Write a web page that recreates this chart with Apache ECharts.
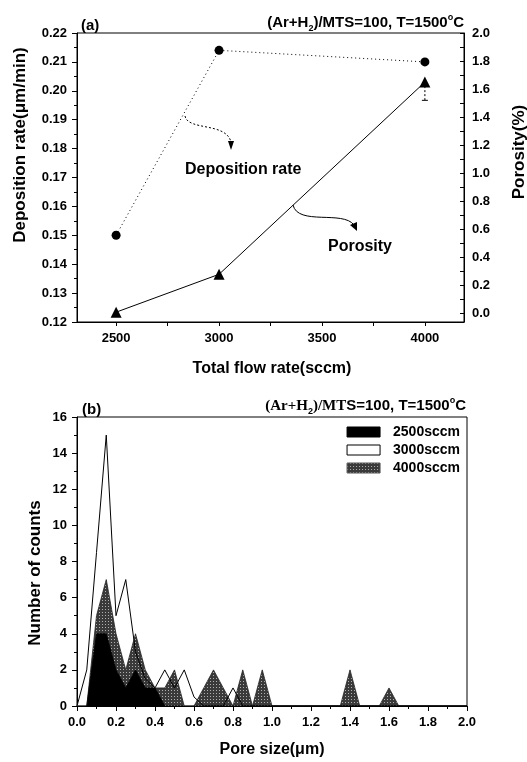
<!DOCTYPE html>
<html>
<head>
<meta charset="utf-8">
<script src="https://cdn.jsdelivr.net/npm/echarts@6/dist/echarts.min.js"></script>
<style>
html,body{margin:0;padding:0;background:#fff}
#chart{width:527px;height:762px}
</style>
</head>
<body>
<div id="chart"></div>
<script>
// (a) deposition rate / porosity vs total flow rate
const flowRate = [2500, 3000, 4000]
const depositionRate = [0.150, 0.214, 0.210]
const porosity = [0.01, 0.28, 1.65]
const porosityLow = [0.01, 0.26, 1.52]
const flowTicks = [2500, 3000, 3500, 4000]
const flowMinorTicks = [2500, 2750, 3000, 3250, 3500, 3750, 4000]
const porosityTicks = [0, 0.2, 0.4, 0.6, 0.8, 1.0, 1.2, 1.4, 1.6, 1.8, 2.0]
const porosityMinorTicks = [0, 0.1, 0.2, 0.3, 0.4, 0.5, 0.6, 0.7, 0.8, 0.9, 1.0, 1.1, 1.2, 1.3, 1.4, 1.5, 1.6, 1.7, 1.8, 1.9, 2.0]

// (b) pore size distribution
const poreSize = [0, 0.05, 0.1, 0.15, 0.2, 0.25, 0.3, 0.35, 0.4, 0.45, 0.5, 0.55, 0.6, 0.65, 0.7, 0.75, 0.8, 0.85, 0.9, 0.95, 1.0,
  1.05, 1.1, 1.15, 1.2, 1.25, 1.3, 1.35, 1.4, 1.45, 1.5, 1.55, 1.6, 1.65, 1.7, 1.75, 1.8, 1.85, 1.9, 1.95, 2.0]
const counts2500 = [0, 0, 4, 4, 2, 1, 2, 1, 1, 0, 0, 0, 0, 0, 0, 0, 0, 0, 0, 0, 0,
  0, 0, 0, 0, 0, 0, 0, 0, 0, 0, 0, 0, 0, 0, 0, 0, 0, 0, 0, 0]
const counts3000 = [0, 2, 8.5, 15, 5, 7, 3, 1.5, 1, 2, 1, 2, 0.5, 0, 0, 0, 1, 0, 0, 0, 0,
  0, 0, 0, 0, 0, 0, 0, 0, 0, 0, 0, 0, 0, 0, 0, 0, 0, 0, 0, 0]
const counts4000 = [0, 0, 5, 7, 4, 2, 4, 2, 1, 1, 2, 0, 0, 1, 2, 1, 0, 2, 0, 2, 0,
  0, 0, 0, 0, 0, 0, 0, 2, 0, 0, 0, 1, 0, 0, 0, 0, 0, 0, 0, 0]

const FONT = '"Liberation Sans", Arial, sans-serif'

// dotted grey fill like the scanned halftone
const pat = document.createElement('canvas')
pat.width = 3; pat.height = 3
const pg = pat.getContext('2d')
pg.fillStyle = '#3a3a3a'; pg.fillRect(0, 0, 3, 3)
pg.fillStyle = '#b0b0b0'; pg.fillRect(0, 0, 1, 1)
const grayFill = { image: pat, repeat: 'repeat' }

const chart = echarts.init(document.getElementById('chart'))

const lbl = { color: '#000', fontSize: 13, fontWeight: 'bold', fontFamily: FONT }
const axLine = { show: true, onZero: false, lineStyle: { color: '#000', width: 1 } }
const pairs = arr => poreSize.map((x, i) => [x, arr[i]])

const titleRich = {
  t: { fontSize: 15, fontWeight: 'bold', fontFamily: FONT, lineHeight: 20, color: '#000' },
  r: { fontSize: 15, fontFamily: '"Liberation Serif", serif', lineHeight: 20, color: '#000' },
  s: { fontSize: 9, fontWeight: 'bold', fontFamily: FONT, lineHeight: 10, verticalAlign: 'bottom', color: '#000' },
  o: { fontSize: 9, fontWeight: 'bold', fontFamily: FONT, lineHeight: 10, verticalAlign: 'top', color: '#000' }
}

const option = {
  animation: false,
  backgroundColor: '#fff',
  title: [
    { text: '(a)', left: 76, top: 13, textStyle: { fontSize: 15, fontWeight: 'bold', fontFamily: FONT, color: '#000' } },
    { text: '{t|(Ar+H}{s|2}{t|)/MTS=100, T=1500}{o|o}{t|C}', right: 58, top: 8, textStyle: { rich: titleRich } },
    { text: '(b)', left: 77, top: 397, textStyle: { fontSize: 15, fontWeight: 'bold', fontFamily: FONT, color: '#000' } },
    { text: '{r|(Ar+H}{s|2}{r|)/MT}{t|S=100, T=1500}{o|o}{t|C}', right: 56, top: 391, textStyle: { rich: titleRich } }
  ],
  grid: [
    { left: 77, top: 33, width: 387, height: 289, show: true, borderColor: '#000', borderWidth: 1 },
    { left: 77, top: 417, width: 390, height: 289, show: true, borderColor: '#000', borderWidth: 1 }
  ],
  legend: {
    right: 62, top: 420, orient: 'vertical', align: 'left', icon: 'rect',
    itemWidth: 33, itemHeight: 10, itemGap: 4,
    textStyle: { fontSize: 14, fontWeight: 'bold', fontFamily: FONT, color: '#000', padding: [0, 0, 0, 8] },
    data: [
      { name: '2500sccm', itemStyle: { color: '#000', borderColor: '#000', borderWidth: 1 } },
      { name: '3000sccm', itemStyle: { color: '#fff', borderColor: '#000', borderWidth: 1 } },
      { name: '4000sccm', itemStyle: { color: grayFill, borderColor: '#555', borderWidth: 1 } }
    ]
  },
  xAxis: [
    {
      gridIndex: 0, type: 'value', min: 2310, max: 4190,
      axisLine: axLine,
      axisTick: { show: true, length: 4, customValues: flowMinorTicks, lineStyle: { color: '#000' } },
      axisLabel: Object.assign({ customValues: flowTicks, margin: 10, formatter: v => String(v) }, lbl),
      splitLine: { show: false }
    },
    {
      gridIndex: 1, type: 'value', min: 0, max: 2, interval: 0.2,
      axisLine: axLine,
      axisTick: { show: true, length: 5, lineStyle: { color: '#000' } },
      minorTick: { show: true, splitNumber: 2, length: 3, lineStyle: { color: '#000' } },
      axisLabel: Object.assign({ margin: 10, formatter: v => v.toFixed(1) }, lbl),
      splitLine: { show: false }
    }
  ],
  yAxis: [
    {
      gridIndex: 0, type: 'value', min: 0.12, max: 0.22, interval: 0.01,
      axisLine: axLine,
      axisTick: { show: true, length: 5, lineStyle: { color: '#000' } },
      minorTick: { show: true, splitNumber: 2, length: 3, lineStyle: { color: '#000' } },
      axisLabel: Object.assign({ margin: 10, formatter: v => v.toFixed(2) }, lbl),
      splitLine: { show: false }
    },
    {
      gridIndex: 0, type: 'value', position: 'right', min: -0.06, max: 2.0,
      axisLine: axLine,
      axisTick: { show: true, inside: true, length: 4, customValues: porosityMinorTicks, lineStyle: { color: '#000' } },
      axisLabel: Object.assign({ margin: 8, customValues: porosityTicks, formatter: v => v.toFixed(1) }, lbl),
      splitLine: { show: false }
    },
    {
      gridIndex: 1, type: 'value', min: 0, max: 16, interval: 2,
      axisLine: axLine,
      axisTick: { show: true, length: 5, lineStyle: { color: '#000' } },
      minorTick: { show: true, splitNumber: 2, length: 3, lineStyle: { color: '#000' } },
      axisLabel: Object.assign({ margin: 10 }, lbl),
      splitLine: { show: false }
    }
  ],
  series: [
    {
      name: 'Deposition rate', type: 'line', xAxisIndex: 0, yAxisIndex: 0,
      data: flowRate.map((x, i) => [x, depositionRate[i]]),
      symbol: 'circle', symbolSize: 9,
      itemStyle: { color: '#000' },
      lineStyle: { color: '#000', width: 1, type: [1, 3] }
    },
    {
      name: 'Porosity', type: 'line', xAxisIndex: 0, yAxisIndex: 1,
      data: flowRate.map((x, i) => [x, porosity[i]]),
      symbol: 'triangle', symbolSize: 11,
      itemStyle: { color: '#000' },
      lineStyle: { color: '#000', width: 1 }
    },
    {
      type: 'custom', xAxisIndex: 0, yAxisIndex: 1, z: 1,
      data: flowRate.map((x, i) => [x, porosity[i], porosityLow[i]]),
      renderItem: (params, api) => {
        const top = api.coord([api.value(0), api.value(1)])
        const bot = api.coord([api.value(0), api.value(2)])
        if (bot[1] - top[1] < 2) return null
        return {
          type: 'group', children: [
            { type: 'line', shape: { x1: top[0], y1: top[1], x2: bot[0], y2: bot[1] }, style: { stroke: '#000', lineWidth: 1, lineDash: [2, 2] } },
            { type: 'line', shape: { x1: bot[0] - 3, y1: bot[1], x2: bot[0] + 3, y2: bot[1] }, style: { stroke: '#000', lineWidth: 1 } }
          ]
        }
      }
    },
    {
      name: '3000sccm', type: 'line', xAxisIndex: 1, yAxisIndex: 2,
      data: pairs(counts3000), symbol: 'none',
      lineStyle: { color: '#000', width: 1 },
      itemStyle: { color: '#fff' },
      areaStyle: { color: '#fff', opacity: 1 }
    },
    {
      name: '4000sccm', type: 'line', xAxisIndex: 1, yAxisIndex: 2,
      data: pairs(counts4000), symbol: 'none',
      lineStyle: { color: '#222', width: 0.8 },
      itemStyle: { color: '#444' },
      areaStyle: { color: grayFill, opacity: 1 }
    },
    {
      name: '2500sccm', type: 'line', xAxisIndex: 1, yAxisIndex: 2,
      data: pairs(counts2500), symbol: 'none',
      lineStyle: { color: '#000', width: 0.8 },
      itemStyle: { color: '#000' },
      areaStyle: { color: '#000', opacity: 1 }
    }
  ],
  graphic: [
    // annotation arrows and labels in panel (a)
    { type: 'bezierCurve', shape: { x1: 185, y1: 116, cpx1: 188, cpy1: 131, cpx2: 226, cpy2: 122, x2: 231, y2: 142 },
      style: { stroke: '#000', lineWidth: 1, lineDash: [2, 2], fill: null } },
    { type: 'polygon', shape: { points: [[228, 141], [234, 141], [231, 150]] }, style: { fill: '#000' } },
    { type: 'bezierCurve', shape: { x1: 293, y1: 205, cpx1: 298, cpy1: 226, cpx2: 343, cpy2: 210, x2: 354, y2: 225 },
      style: { stroke: '#000', lineWidth: 1, fill: null } },
    { type: 'polygon', shape: { points: [[350, 225], [357, 222], [357, 231]] }, style: { fill: '#000' } },
    { type: 'text', x: 185, y: 170, style: { text: 'Deposition rate', font: 'bold 16px ' + FONT, fill: '#000', align: 'left', verticalAlign: 'middle' } },
    { type: 'text', x: 328, y: 247, style: { text: 'Porosity', font: 'bold 16px ' + FONT, fill: '#000', align: 'left', verticalAlign: 'middle' } },
    // axis titles
    { type: 'text', x: 20, y: 145, rotation: Math.PI / 2, style: { text: 'Deposition rate(\u03bcm/min)', font: 'bold 17px ' + FONT, fill: '#000', align: 'center', verticalAlign: 'middle' } },
    { type: 'text', x: 519, y: 152, rotation: Math.PI / 2, style: { text: 'Porosity(%)', font: 'bold 17px ' + FONT, fill: '#000', align: 'center', verticalAlign: 'middle' } },
    { type: 'text', x: 272, y: 369, style: { text: 'Total flow rate(sccm)', font: 'bold 16px ' + FONT, fill: '#000', align: 'center', verticalAlign: 'middle' } },
    { type: 'text', x: 35, y: 573, rotation: Math.PI / 2, style: { text: 'Number of counts', font: 'bold 17px ' + FONT, fill: '#000', align: 'center', verticalAlign: 'middle' } },
    { type: 'text', x: 272, y: 750, style: { text: 'Pore size(\u03bcm)', font: 'bold 16px ' + FONT, fill: '#000', align: 'center', verticalAlign: 'middle' } }
  ]
}

chart.setOption(option)
</script>
</body>
</html>
